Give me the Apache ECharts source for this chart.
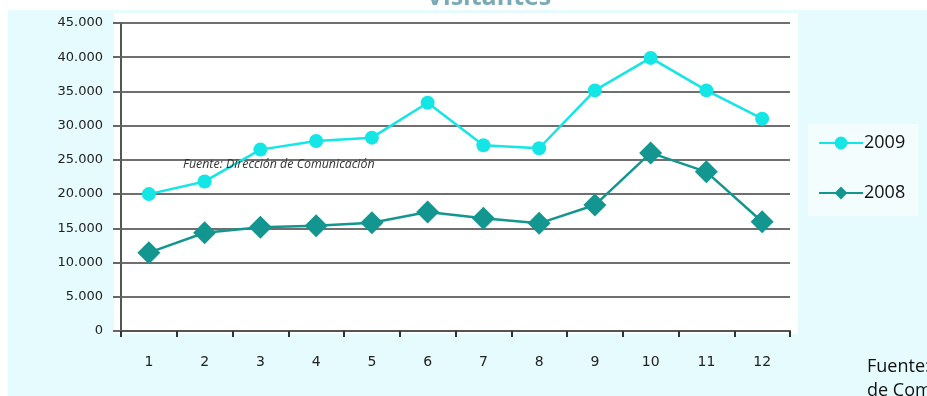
<!DOCTYPE html>
<html><head><meta charset="utf-8">
<script src="https://cdn.jsdelivr.net/npm/echarts@6/dist/echarts.min.js"></script>
<style>html,body{margin:0;padding:0;background:#fff;}#c{width:927px;height:396px;}</style>
</head><body><div id="c"></div>
<script>
const categories = ['1','2','3','4','5','6','7','8','9','10','11','12'];
const series2009 = [20000, 21850, 26500, 27760, 28250, 33350, 27130, 26700, 35150, 39900, 35150, 31020];
const series2008 = [11450, 14360, 15150, 15380, 15820, 17380, 16460, 15730, 18400, 26020, 23250, 15960];
const seriesNames = ['2009', '2008'];
const titleText = 'Visitantes';
const noteText = 'Fuente: Dirección de Comunicación';
const sideNote = 'Fuente: Dirección\nde Comunicación';

const chart = echarts.init(document.getElementById('c'));
const fmt = v => v === 0 ? '0' : (v/1000).toFixed(0) + '.000';
chart.setOption({
  animation: false,
  backgroundColor: '#ffffff',
  graphic: [
    {type:'rect', z:-20, shape:{x:8,y:10,width:919,height:386}, style:{fill:'#e6fbfd'}},
    {type:'rect', z:-19, shape:{x:114,y:13,width:684,height:321}, style:{fill:'#ffffff'}},
    {type:'rect', z:-19, shape:{x:808,y:124,width:110,height:92}, style:{fill:'#f4fdfe'}},
    {type:'text', z:5, style:{text:titleText, x:489, y:10, align:'center', verticalAlign:'bottom', textAlign:'center', textVerticalAlign:'bottom', fill:'#7aaab8', font:'bold 25px "Open Sans", sans-serif'}},
    {type:'text', z:5, style:{text:noteText, x:183, y:158, fill:'#333', font:'italic 12.4px "Open Sans", sans-serif'}},
    {type:'text', z:5, style:{text:sideNote, x:867, y:355, fill:'#111', font:'18px "Open Sans", sans-serif', lineHeight:24}}
  ],
  grid: {left:121, right:137, top:23, bottom:65, containLabel:false},
  legend: {
    orient:'vertical', left:813, top:129, itemGap:32, itemWidth:44, itemHeight:16,
    data: seriesNames,
    textStyle:{fontSize:18, color:'#111', fontFamily:'"Open Sans", sans-serif', padding:[0,0,0,-4]}
  },
  xAxis: {
    type:'category', data:categories, boundaryGap:true,
    axisLine:{lineStyle:{color:'#555', width:2}},
    axisTick:{show:true, length:6, lineStyle:{color:'#333', width:2}},
    axisLabel:{fontSize:14, color:'#222', margin:24, fontFamily:'"DejaVu Sans", sans-serif'}
  },
  yAxis: {
    type:'value', min:0, max:45000, interval:5000,
    axisLine:{show:true, lineStyle:{color:'#555', width:2}},
    axisTick:{show:true, length:8, lineStyle:{color:'#666', width:2}},
    splitLine:{lineStyle:{color:'#6f6f6f', width:2}},
    axisLabel:{fontSize:13, color:'#222', margin:18, formatter:fmt, fontFamily:'"DejaVu Sans", sans-serif'}
  },
  series: [
    {name:seriesNames[0], type:'line', data:series2009, symbol:'circle', symbolSize:14,
     itemStyle:{color:'#14e6e6'}, lineStyle:{color:'#14e6e6', width:2.5}},
    {name:seriesNames[1], type:'line', data:series2008, symbol:'diamond', symbolSize:23,
     itemStyle:{color:'#13968f'}, lineStyle:{color:'#13968f', width:2.5}}
  ]
});
</script></body></html>
